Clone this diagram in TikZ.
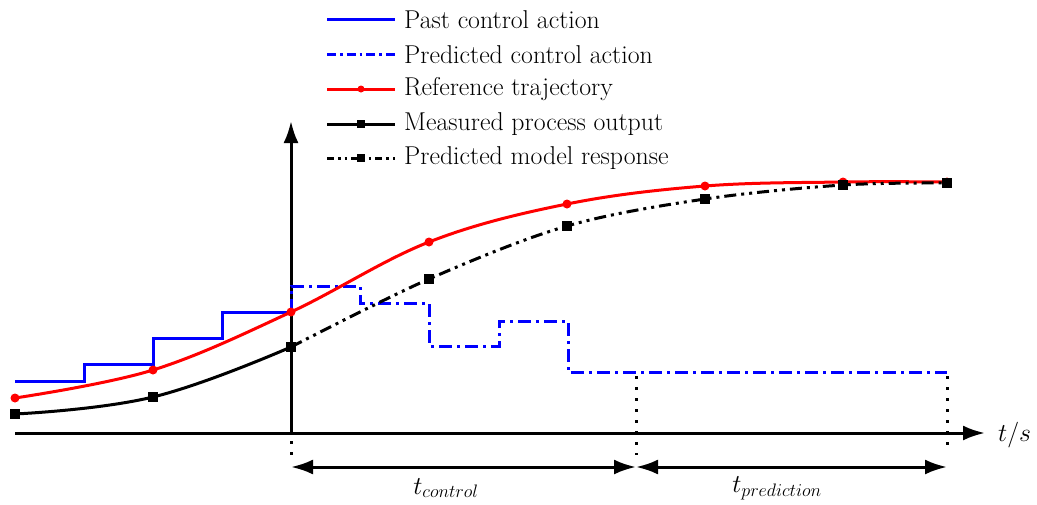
\RequirePackage{fix-cm}
\documentclass[tikz,border=0pt]{standalone}
\usepackage{fontspec}
\usetikzlibrary{arrows.meta}
\begin{document}
\begin{tikzpicture}[x=1pt,y=-1pt,
  every node/.style={font=\fontsize{25.8}{30}\selectfont, inner sep=0pt},
  ln/.style={line width=3pt},
  pastc/.style={ln, blue},
  predc/.style={ln, blue, dash pattern=on 13pt off 5pt on 3pt off 5pt},
  refc/.style={ln, red},
  measc/.style={ln, black},
  modc/.style={ln, black, dash pattern=on 12pt off 5pt on 3pt off 5pt on 3pt off 5pt},
  dots/.style={line width=3pt, dash pattern=on 3pt off 8pt},
  axis/.style={line width=3pt, -{Latex[length=22pt,width=15pt]}},
  dim/.style={line width=3pt, {Latex[length=22pt,width=15pt]}-{Latex[length=22pt,width=15pt]}},
  rdot/.style={circle, fill=red, minimum size=9pt, inner sep=0pt},
  bsq/.style={rectangle, fill=black, minimum size=10pt, inner sep=0pt}]
\useasboundingbox (0,0) rectangle (1037,504);

% axes
\coordinate (xs) at (15,433);
\coordinate (xe) at (985,433);
\coordinate (ys) at (291,433);
\coordinate (ye) at (291,121);
\draw[axis] (xs) -- (xe);
\draw[axis] (ys) -- (ye);
\node[anchor=west] (tlab) at (998,435) {$t/s$};

% past control action
\draw[pastc] (15,381) -- (84,381) -- (84,364) -- (153,364) -- (153,338) -- (222,338) -- (222,312) -- (291,312);
% predicted control action
\draw[predc] (291,312) -- (291,286) -- (360,286) -- (360,303) -- (429,303) -- (429,346) -- (499,346) -- (499,321) -- (568,321) -- (568,372) -- (947,372);

% reference trajectory
\draw[refc] plot[smooth, tension=0.6] coordinates {(15,398) (153,370) (291,312) (429,242) (567,204) (705,186) (843,182) (947,182)};
\foreach \p in {(15,398),(153,370),(291,312),(429,242),(567,204),(705,186),(843,182),(947,182)}
  \node[rdot] at \p {};

% measured output
\draw[measc] plot[smooth, tension=0.7] coordinates {(15,414) (153,397) (291,347)};
% predicted model response
\draw[modc] plot[smooth, tension=0.55] coordinates {(291,347) (429,279) (567,226) (705,199) (843,185) (947,183)};
\foreach \p in {(15,414),(153,397),(291,347),(429,279),(567,226),(705,199),(843,185),(947,183)}
  \node[bsq] at \p {};

% dotted verticals
\coordinate (d1t) at (291,441);
\coordinate (d1b) at (291,455);
\coordinate (d2t) at (636,376);
\coordinate (d2b) at (636,455);
\coordinate (d3t) at (947,376);
\coordinate (d3b) at (947,450);
\draw[dots] (d1t) -- (d1b);
\draw[dots] (d2t) -- (d2b);
\draw[dots] (d3t) -- (d3b);

% dimension arrows
\coordinate (a1) at (291,467);
\coordinate (a2) at (636,467);
\coordinate (a3) at (947,467);
\draw[dim] (a1) -- (a2);
\draw[dim] (a2) -- (a3);
\node (tc) at (446,488) {$t_{control}$};
\node (tp) at (777,488) {$t_{prediction}$};

% legend
\draw[pastc] (327,19) -- (395,19);
\node[anchor=west] (l1) at (404,20) {Past control action};
\draw[predc, dash pattern=on 9pt off 4pt on 2.6pt off 4pt] (327,54) -- (395,54);
\node[anchor=west] (l2) at (404,55) {Predicted control action};
\draw[refc] (327,89) -- (395,89);
\node[rdot, minimum size=7pt] at (361,89) {};
\node[anchor=west] (l3) at (404,89) {Reference trajectory};
\draw[measc] (327,124) -- (395,124);
\node[bsq, minimum size=8pt] at (361,124) {};
\node[anchor=west] (l4) at (404,124) {Measured process output};
\draw[modc, dash pattern=on 7pt off 4pt on 2.6pt off 4pt on 2.6pt off 4pt] (327,158) -- (395,158);
\node[bsq, minimum size=8pt] at (361,158) {};
\node[anchor=west] (l5) at (404,158) {Predicted model response};
\end{tikzpicture}
\end{document}
